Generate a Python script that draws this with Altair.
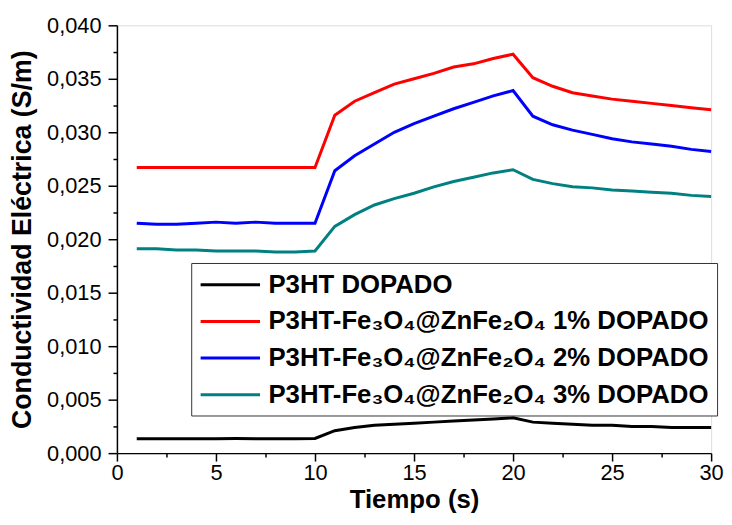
import altair as alt
import pandas as pd

tiempo = list(range(1, 31))

p3ht = [0.00135, 0.00135, 0.00135, 0.00135, 0.00135, 0.00137, 0.00135, 0.00135, 0.00135, 0.00137,
        0.0021, 0.0024, 0.0026, 0.0027, 0.0028, 0.0029, 0.0030, 0.0031, 0.0032, 0.0033,
        0.0029, 0.0028, 0.0027, 0.0026, 0.0026, 0.0025, 0.0025, 0.0024, 0.0024, 0.0024]

p1 = [0.0267, 0.0267, 0.0267, 0.0267, 0.0267, 0.0267, 0.0267, 0.0267, 0.0267, 0.0267,
      0.0316, 0.0329, 0.0337, 0.0345, 0.0350, 0.0355, 0.0361, 0.0364, 0.0369, 0.0373,
      0.0351, 0.0343, 0.0337, 0.0334, 0.0331, 0.0329, 0.0327, 0.0325, 0.0323, 0.0321]

p2 = [0.0215, 0.0214, 0.0214, 0.0215, 0.0216, 0.0215, 0.0216, 0.0215, 0.0215, 0.0215,
      0.0264, 0.0278, 0.0289, 0.0300, 0.0308, 0.0315, 0.0322, 0.0328, 0.0334, 0.0339,
      0.0315, 0.0307, 0.0302, 0.0298, 0.0294, 0.0291, 0.0289, 0.0287, 0.0284, 0.0282]

p3 = [0.0191, 0.0191, 0.0190, 0.0190, 0.0189, 0.0189, 0.0189, 0.0188, 0.0188, 0.0189,
      0.0212, 0.0223, 0.0232, 0.0238, 0.0243, 0.0249, 0.0254, 0.0258, 0.0262, 0.0265,
      0.0256, 0.0252, 0.0249, 0.0248, 0.0246, 0.0245, 0.0244, 0.0243, 0.0241, 0.0240]

series_names = [
    "P3HT DOPADO",
    "P3HT-Fe\u2083O\u2084@ZnFe\u2082O\u2084 1% DOPADO",
    "P3HT-Fe\u2083O\u2084@ZnFe\u2082O\u2084 2% DOPADO",
    "P3HT-Fe\u2083O\u2084@ZnFe\u2082O\u2084 3% DOPADO",
]
series_colors = ["#000000", "#ff0000", "#0000ff", "#008080"]

rows = []
for name, vals in zip(series_names, [p3ht, p1, p2, p3]):
    for t, v in zip(tiempo, vals):
        rows.append({"t": t, "v": v, "serie": name})
df = pd.DataFrame(rows)

x_ticks = [i * 2.5 for i in range(13)]
y_ticks = [round(i * 0.0025, 4) for i in range(17)]

font = "Liberation Sans"

chart = alt.Chart(df).mark_line(strokeWidth=3).encode(
    x=alt.X("t:Q", scale=alt.Scale(domain=[0, 30], nice=False),
            axis=alt.Axis(
                title="Tiempo (s)", values=x_ticks,
                labelExpr="datum.value % 5 === 0 ? datum.label : ''",
                tickSize={"condition": {"test": "datum.value % 5 === 0", "value": 8}, "value": 4},
                labelPadding=2, grid=False, domainColor="black", tickColor="black",
                domainWidth=1.5, tickWidth=1.5, labelFontSize=22, labelColor="black",
                labelFont=font, titleFont=font, titleFontSize=26, titleFontWeight="bold",
                titleColor="black", titlePadding=3, labelFlush=False, labelOverlap=False)),
    y=alt.Y("v:Q", scale=alt.Scale(domain=[0, 0.04], nice=False),
            axis=alt.Axis(
                title="Conductividad Eléctrica (S/m)", values=y_ticks,
                labelExpr="round(datum.value*10000) % 50 === 0 ? replace(format(datum.value, '.3f'), '.', ',') : ''",
                tickSize={"condition": {"test": "round(datum.value*10000) % 50 === 0", "value": 9}, "value": 4},
                labelPadding=7, grid=False, domainColor="black", tickColor="black",
                domainWidth=1.5, tickWidth=1.5, labelFontSize=22, labelColor="black",
                labelFont=font, titleFont=font, titleFontSize=27, titleFontWeight="bold",
                titleColor="black", titlePadding=10, labelFlush=False, labelOverlap=False)),
    color=alt.Color("serie:N", sort=series_names,
                    scale=alt.Scale(domain=series_names, range=series_colors),
                    legend=alt.Legend(
                        title=None, orient="none", legendX=75, legendY=240,
                        symbolType="M-1,0H3.8", symbolSize=625, symbolStrokeWidth=3,
                        labelFont=font, labelFontSize=26, labelFontWeight="bold",
                        labelColor="black", labelLimit=700, labelOffset=42,
                        rowPadding=10, padding=8, strokeColor="#333333",
                        fillColor="white", offset=0)),
    order=alt.Order("t:Q"),
).properties(
    width=600, height=432,
    padding={"left": 110, "top": 15, "right": 13, "bottom": 62},
    autosize=alt.AutoSizeParams(type="none"),
).configure_view(stroke=None).configure(background="white")

chart.save("out.html", embed_options={"renderer": "svg", "actions": False})
